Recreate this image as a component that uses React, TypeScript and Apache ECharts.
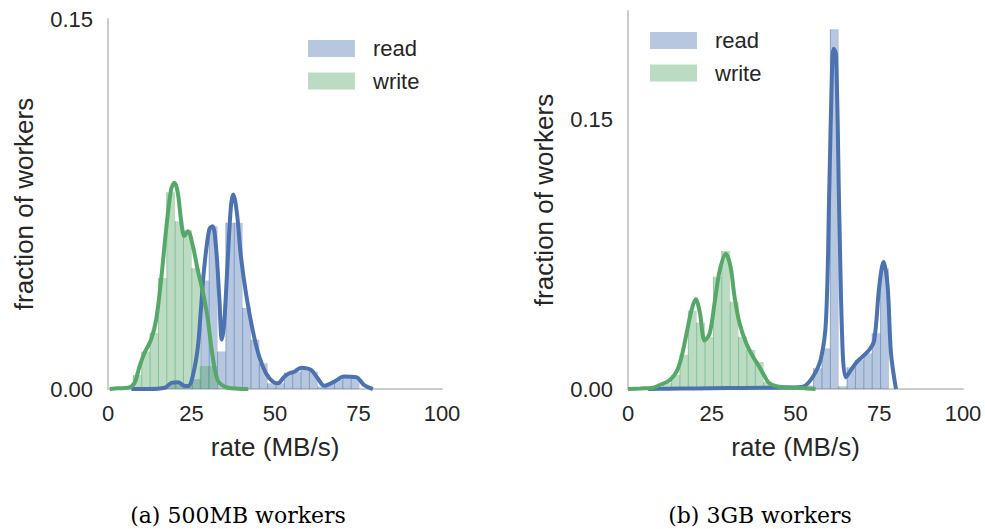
import React, { useEffect, useRef } from "react";
import * as echarts from "echarts";

// ---------- data ----------
const BIN_WIDTH = 2.5;

// (a) 500MB workers
const leftReadBinStarts = [17.8, 20.3, 22.8, 25.3, 27.8, 30.3, 32.8, 35.3, 37.8, 40.3, 42.8, 45.3, 47.8, 50.3, 52.8, 55.3, 57.8, 60.3, 62.8, 65.3, 67.8, 70.3, 72.8];
const leftReadBinHeights = [0.002, 0.002, 0.001, 0.004, 0.044, 0.066, 0.0152, 0.0674, 0.0674, 0.0329, 0.02, 0.0104, 0.0023, 0.0023, 0.0066, 0.007, 0.0084, 0.007, 0.001, 0.002, 0.0037, 0.005, 0.005];
const leftWriteBinStarts = [7.6, 10.1, 12.6, 15.1, 17.6, 20.1, 22.6, 25.1, 27.6, 30.1];
const leftWriteBinHeights = [0.0057, 0.0152, 0.0227, 0.045, 0.0798, 0.068, 0.0645, 0.049, 0.0093, 0.0093];

const leftReadKdeX = [7, 12, 17, 19, 21, 22.5, 24, 25.5, 26.9, 27.8, 28.8, 30.3, 31.3, 32.3, 33.3, 34.1, 34.8, 35.8, 36.8, 37.5, 38.6, 39.8, 41.3, 43.3, 45.3, 47.3, 49.3, 50.8, 52.8, 54.3, 55.8, 57.8, 60.8, 62.8, 64.8, 67.8, 70.7, 74.3, 76.7, 79.3];
const leftReadKdeY = [0, 0, 0.0005, 0.0025, 0.0027, 0.0015, 0.0012, 0.006, 0.017, 0.032, 0.049, 0.0646, 0.066, 0.058, 0.0375, 0.02, 0.027, 0.051, 0.074, 0.0789, 0.0713, 0.0537, 0.0389, 0.024, 0.013, 0.0064, 0.003, 0.0023, 0.005, 0.0064, 0.007, 0.0086, 0.0077, 0.0043, 0.0013, 0.003, 0.0051, 0.0048, 0.0016, 0];
const leftWriteKdeX = [0.5, 3, 6, 7.9, 9.4, 10.9, 12.9, 14.4, 15.9, 17.4, 18.9, 19.9, 20.9, 22.1, 22.9, 23.9, 25.4, 26.9, 28.3, 29.8, 31.3, 32.8, 34.8, 37, 42];
const leftWriteKdeY = [0, 0.0003, 0.0005, 0.0023, 0.009, 0.0145, 0.02, 0.028, 0.0443, 0.0646, 0.0809, 0.0836, 0.0795, 0.066, 0.062, 0.064, 0.058, 0.048, 0.04, 0.029, 0.0135, 0.0037, 0.001, 0.0003, 0];

// (b) 3GB workers
const rightReadBinStarts = [52.9, 55.4, 57.9, 60.4, 62.9, 65.4, 67.9, 70.4, 72.9, 75.4];
const rightReadBinHeights = [0.002, 0.0115, 0.0226, 0.1998, 0.0015, 0.012, 0.016, 0.0198, 0.031, 0.067];
const rightWriteBinStarts = [8, 10.5, 13, 15.5, 18, 20.5, 23, 25.5, 28, 30.5, 33, 35.5, 38, 40.5];
const rightWriteBinHeights = [0.001, 0.0033, 0.0078, 0.019, 0.0435, 0.0369, 0.029, 0.0624, 0.0767, 0.0485, 0.029, 0.0217, 0.015, 0.004];

const rightReadKdeX = [6, 12, 20, 30, 40, 48, 52.2, 55.2, 57.6, 59.1, 60.1, 60.9, 61.4, 62.1, 63.1, 64.1, 65.0, 66, 68, 70, 72, 73.5, 75, 76.3, 77.5, 78.5, 80];
const rightReadKdeY = [0, 0.0002, 0.0003, 0.0005, 0.0007, 0.0008, 0.0013, 0.0068, 0.017, 0.038, 0.112, 0.177, 0.189, 0.186, 0.094, 0.02, 0.0065, 0.009, 0.0143, 0.018, 0.0217, 0.027, 0.057, 0.0707, 0.057, 0.02, 0];
const rightWriteKdeX = [0, 3.6, 7.5, 9.5, 12.5, 14.5, 16, 17.5, 19, 20.2, 21.4, 22.9, 24.4, 25.9, 27.4, 29.2, 30.6, 31.8, 33.3, 35.3, 37.3, 39.3, 40.8, 42.3, 45.2, 52, 56];
const rightWriteKdeY = [0, 0.0003, 0.0007, 0.0022, 0.005, 0.0096, 0.018, 0.031, 0.044, 0.0498, 0.043, 0.027, 0.031, 0.0485, 0.066, 0.075, 0.068, 0.0513, 0.0365, 0.0254, 0.018, 0.012, 0.007, 0.003, 0.0013, 0.0005, 0];

const xTickInterval = 25;
const xRange = [0, 100];
const yTickInterval = 0.15;
const leftYMax = 0.15;
const rightYMax = 0.21;
const seriesNames = ["read", "write"];
const captions = ["(a) 500MB workers", "(b) 3GB workers"];
const xAxisTitle = "rate (MB/s)";
const yAxisTitle = "fraction of workers";

// ---------- styles ----------
const BLUE = "#4C72B0";
const GREEN = "#55A868";
const BLUE_FILL = "rgba(76,114,176,0.4)";
const GREEN_FILL = "rgba(85,168,104,0.4)";
const BLUE_EDGE = "rgba(76,114,176,0.55)";
const GREEN_EDGE = "rgba(85,168,104,0.55)";
const TEXT = "#262626";
const SPINE = "#cccccc";
const SANS = "'Liberation Sans', Arial, sans-serif";
const SERIF = "'DejaVu Serif', serif";

function histSeries(name: string, starts: number[], heights: number[], idx: number, fill: string, edge: string) {
  return {
    type: "custom",
    name,
    xAxisIndex: idx,
    yAxisIndex: idx,
    silent: true,
    data: starts.map((s, i) => [s, s + BIN_WIDTH, heights[i]]),
    encode: { x: [0, 1], y: 2 },
    renderItem: (_p: any, api: any) => {
      const p0 = api.coord([api.value(0), api.value(2)]);
      const p1 = api.coord([api.value(1), 0]);
      return {
        type: "group",
        children: [
          {
            type: "rect",
            shape: { x: p0[0], y: p0[1], width: p1[0] - p0[0], height: p1[1] - p0[1] },
            style: { fill },
          },
          {
            type: "line",
            shape: { x1: p0[0], y1: p0[1], x2: p0[0], y2: p1[1] },
            style: { stroke: edge, lineWidth: 1 },
          },
        ],
      };
    },
  };
}

function kdeSeries(name: string, xs: number[], ys: number[], idx: number, color: string) {
  return {
    type: "line",
    name,
    xAxisIndex: idx,
    yAxisIndex: idx,
    silent: true,
    data: xs.map((x, i) => [x, ys[i]]),
    smooth: 0.35,
    symbol: "none",
    showSymbol: false,
    lineStyle: { color, width: 4 },
    itemStyle: { color },
  };
}

function xAxis(idx: number) {
  return {
    gridIndex: idx,
    type: "value",
    min: xRange[0],
    max: xRange[1],
    interval: xTickInterval,
    axisLine: { show: true, onZero: false, lineStyle: { color: SPINE, width: 2 } },
    axisTick: { show: false },
    splitLine: { show: false },
    axisLabel: { color: TEXT, fontSize: 22, fontFamily: SANS, margin: 13 },
    name: xAxisTitle,
    nameLocation: "middle",
    nameGap: 45,
    nameTextStyle: { color: TEXT, fontSize: 26, fontFamily: SANS },
  };
}

function yAxis(idx: number, max: number) {
  return {
    gridIndex: idx,
    type: "value",
    min: 0,
    max,
    interval: yTickInterval,
    axisLine: { show: true, lineStyle: { color: SPINE, width: 2 } },
    axisTick: { show: false },
    splitLine: { show: false },
    axisLabel: {
      color: TEXT,
      fontSize: 22,
      fontFamily: SANS,
      margin: 15,
      formatter: (v: number) =>
        Math.abs(v % yTickInterval) < 1e-9 || Math.abs((v % yTickInterval) - yTickInterval) < 1e-9 ? v.toFixed(2) : "",
    },
    name: yAxisTitle,
    nameLocation: "middle",
    nameGap: 71,
    nameTextStyle: { color: TEXT, fontSize: 26, fontFamily: SANS },
  };
}

function legend(x: number, y: number) {
  const rowGap = 32.6;
  const items = [
    { name: seriesNames[0], fill: BLUE_FILL },
    { name: seriesNames[1], fill: GREEN_FILL },
  ];
  const children: any[] = [];
  items.forEach((it, i) => {
    children.push({ type: "rect", shape: { x: 0, y: i * rowGap, width: 47, height: 17 }, style: { fill: it.fill } });
    children.push({
      type: "text",
      x: 65,
      y: i * rowGap + 8.5,
      style: { text: it.name, fill: TEXT, font: `22px ${SANS}`, align: "left", verticalAlign: "middle" },
    });
  });
  return { type: "group", x, y, children };
}

export default function App() {
  const ref = useRef<HTMLDivElement>(null);
  useEffect(() => {
    if (!ref.current) return;
    const chart = echarts.init(ref.current, undefined, { renderer: "svg" });
    chart.setOption({
      animation: false,
      backgroundColor: "#ffffff",
      grid: [
        { left: 108, top: 19, width: 334, height: 370 },
        { left: 628, top: 11, width: 335, height: 378 },
      ],
      xAxis: [xAxis(0), xAxis(1)],
      yAxis: [yAxis(0, leftYMax), yAxis(1, rightYMax)],
      series: [
        histSeries(seriesNames[0], leftReadBinStarts, leftReadBinHeights, 0, BLUE_FILL, BLUE_EDGE),
        kdeSeries(seriesNames[0], leftReadKdeX, leftReadKdeY, 0, BLUE),
        histSeries(seriesNames[1], leftWriteBinStarts, leftWriteBinHeights, 0, GREEN_FILL, GREEN_EDGE),
        kdeSeries(seriesNames[1], leftWriteKdeX, leftWriteKdeY, 0, GREEN),
        histSeries(seriesNames[0], rightReadBinStarts, rightReadBinHeights, 1, BLUE_FILL, BLUE_EDGE),
        kdeSeries(seriesNames[0], rightReadKdeX, rightReadKdeY, 1, BLUE),
        histSeries(seriesNames[1], rightWriteBinStarts, rightWriteBinHeights, 1, GREEN_FILL, GREEN_EDGE),
        kdeSeries(seriesNames[1], rightWriteKdeX, rightWriteKdeY, 1, GREEN),
      ],
      graphic: [
        legend(308, 40),
        legend(650, 32),
        {
          type: "text",
          x: 238,
          y: 515,
          style: { text: captions[0], fill: "#000", font: `22px ${SERIF}`, align: "center", verticalAlign: "middle" },
        },
        {
          type: "text",
          x: 760,
          y: 515,
          style: { text: captions[1], fill: "#000", font: `22px ${SERIF}`, align: "center", verticalAlign: "middle" },
        },
      ],
    });
    return () => chart.dispose();
  }, []);
  return <div ref={ref} style={{ position: "fixed", left: 0, top: 0, width: 985, height: 529 }} />;
}
